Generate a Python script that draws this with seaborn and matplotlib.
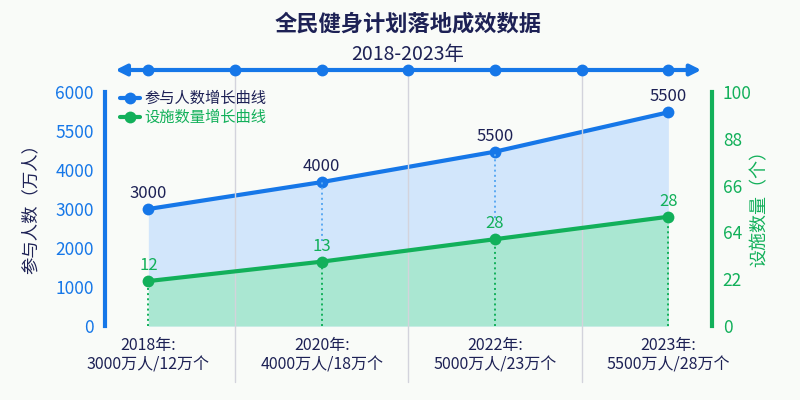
import matplotlib.pyplot as plt
import matplotlib.transforms as mtransforms
import numpy as np
import pandas as pd
import seaborn as sns

# values
years = ["2018", "2020", "2022", "2023"]
people = [3000, 3690, 4470, 5480]          # 万人 (as drawn)
facilities = [19.2, 27.5, 37.1, 46.7]      # 个 scale (as drawn)
people_labels = ["3000", "4000", "5500", "5500"]
facility_labels = ["12", "13", "28", "28"]
bottom_labels = ["3000万人/12万个", "4000万人/18万个", "5000万人/23万个", "5500万人/28万个"]
left_tick_labels = ["0", "1000", "2000", "3000", "4000", "5500", "6000"]
right_tick_labels = ["0", "22", "64", "66", "88", "100"]

BLUE = "#1677e8"
BLUE_FILL = "#d2e6fb"
GREEN = "#12b05a"
GREEN_FILL = "#a8e8d0"
NAVY = "#1d2155"
GRID = "#d3d3dc"
BG = "#f9fbf8"

sns.set_theme(style="white")
plt.rcParams["font.family"] = ["Noto Sans CJK SC", "DejaVu Sans"]

df = pd.DataFrame({"pos": np.arange(len(years)), "people": people, "facilities": facilities})

fig, ax = plt.subplots(figsize=(8, 4), dpi=100)
fig.patch.set_facecolor(BG)
ax.set_facecolor("none")
fig.subplots_adjust(left=105 / 800, right=711.7 / 800, bottom=1 - 326 / 400, top=1 - 92 / 400)
ax2 = ax.twinx()

# blue series
ax.fill_between(df["pos"], df["people"], color=BLUE_FILL, zorder=1, lw=0)
sns.lineplot(data=df, x="pos", y="people", ax=ax, color=BLUE, lw=3, marker="o",
             markersize=8.5, markeredgewidth=0, label="参与人数增长曲线", legend=False, zorder=4)

# green series
ax2.fill_between(df["pos"], df["facilities"], color=GREEN_FILL, alpha=0.95, zorder=1, lw=0)
sns.lineplot(data=df, x="pos", y="facilities", ax=ax2, color=GREEN, lw=3, marker="o",
             markersize=8.5, markeredgewidth=0, label="设施数量增长曲线", legend=False, zorder=4)

ax.set_xlim(-0.25, 3.25)
ax.set_ylim(0, 6000)
ax2.set_ylim(0, 100)

# dotted drop lines (blue one stops above the green value label)
for i in range(len(years)):
    if i in (1, 2):
        ax2.vlines(i, df["facilities"][i] + 9, df["people"][i] / 60, colors="#5aa9f2",
                   linestyles=":", lw=1.4, zorder=2)
    ax2.vlines(i, 0, df["facilities"][i], colors=GREEN, linestyles=":", lw=1.4, zorder=2)

# gray separators and timeline
trans = mtransforms.blended_transform_factory(ax2.transData, ax2.transAxes)
for xs in np.arange(0.5, 3, 1.0):
    ax2.plot([xs, xs], [-0.24, 1.094], color=GRID, lw=1, transform=trans,
             clip_on=False, zorder=2)
ax2.annotate("", xy=(3.19, 1.094), xytext=(-0.19, 1.094), xycoords=trans, textcoords=trans,
             arrowprops=dict(arrowstyle="<|-|>", color=BLUE, lw=3, mutation_scale=16,
                             shrinkA=0, shrinkB=0), annotation_clip=False)
ax2.plot(np.arange(0, 3.01, 0.5), [1.094] * 7, "o", color=BLUE, ms=7.5, transform=trans,
         clip_on=False, zorder=5)

# point labels
for i in range(len(years)):
    ax.annotate(people_labels[i], (i, people[i]), xytext=(0, 5), textcoords="offset points",
                ha="center", va="bottom", fontsize=12, color=NAVY, zorder=6)
    ax2.annotate(facility_labels[i], (i, facilities[i]), xytext=(0, 5), textcoords="offset points",
                 ha="center", va="bottom", fontsize=12, color=GREEN, zorder=6)

# bottom category labels
btrans = mtransforms.blended_transform_factory(ax.transData, ax.transAxes)
for i, (yr, lab) in enumerate(zip(years, bottom_labels)):
    ax.text(i, -0.045, f"{yr}年:\n{lab}", transform=btrans, ha="center", va="top",
            fontsize=11.5, color=NAVY, linespacing=1.2)

# axes styling
for a in (ax, ax2):
    for s in a.spines.values():
        s.set_visible(False)
    a.grid(False)
    a.set_xlabel("")
    a.set_xticks([])
ax.spines["left"].set_visible(True)
ax.spines["left"].set_color(BLUE)
ax.spines["left"].set_linewidth(3)
ax2.spines["right"].set_visible(True)
ax2.spines["right"].set_color(GREEN)
ax2.spines["right"].set_linewidth(3)

ax.set_yticks(np.linspace(0, 6000, len(left_tick_labels)))
ax.set_yticklabels(left_tick_labels)
ax.tick_params(axis="y", length=0, pad=8, labelsize=12.5, labelcolor=BLUE)
ax2.set_yticks(np.linspace(0, 100, len(right_tick_labels)))
ax2.set_yticklabels(right_tick_labels)
ax2.tick_params(axis="y", length=0, pad=8, labelsize=12.5, labelcolor=GREEN)

ax.set_ylabel("参与人数（万人）", fontsize=12.5, color=NAVY, labelpad=6)
ax2.set_ylabel("设施数量（个）", fontsize=13, color=GREEN, labelpad=0)
ax.yaxis.set_label_coords(-0.108, 0.52)
ax2.yaxis.set_label_coords(1.064, 0.52)

# legend
h1, l1 = ax.get_legend_handles_labels()
h2, l2 = ax2.get_legend_handles_labels()
leg = ax2.legend(h1 + h2, l1 + l2, loc="upper left", bbox_to_anchor=(0.015, 1.035), frameon=False,
                 fontsize=11, handlelength=1.3, handletextpad=0.3, labelspacing=0.15,
                 borderaxespad=0)
leg.get_texts()[0].set_color(NAVY)
leg.get_texts()[1].set_color(GREEN)

# titles
fig.text(408 / 800, 1 - 24 / 400, "全民健身计划落地成效数据", ha="center", va="center",
         fontsize=16, fontweight="bold", color=NAVY)
fig.text(408 / 800, 1 - 55 / 400, "2018-2023年", ha="center", va="center",
         fontsize=14, color=NAVY)

fig.savefig("out.png", dpi=100, facecolor=BG)
